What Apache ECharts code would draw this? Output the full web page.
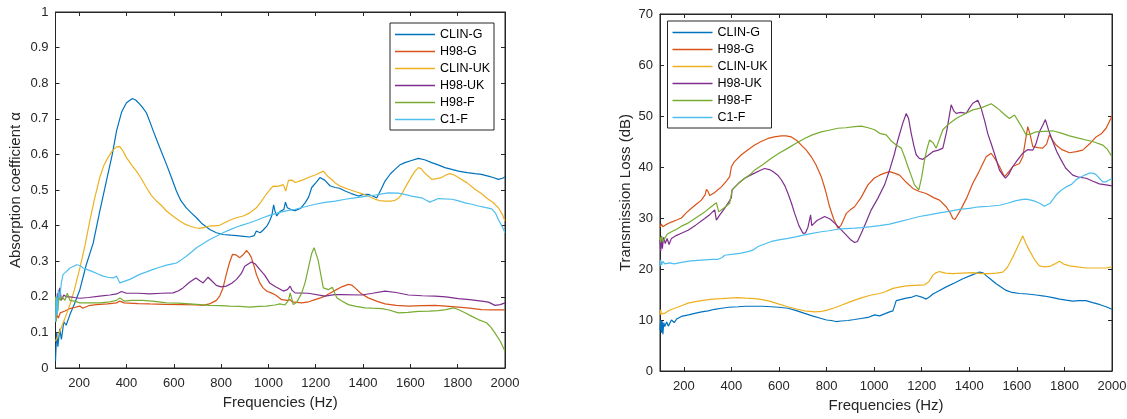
<!DOCTYPE html>
<html>
<head>
<meta charset="utf-8">
<script src="https://cdn.jsdelivr.net/npm/echarts@6/dist/echarts.min.js"></script>
<style>html,body{margin:0;padding:0;background:#fff;}#c{width:1127px;height:419px;}</style>
</head>
<body>
<div id="c"></div>
<script>
const seriesNames = ['CLIN-G','H98-G','CLIN-UK','H98-UK','H98-F','C1-F'];
const seriesColors = ['#0072BD','#D95319','#EDB120','#7E2F8E','#77AC30','#4DBEEE'];
const freqTicks = [200,400,600,800,1000,1200,1400,1600,1800,2000];

// Left panel: absorption coefficient
const absClinG = [[100,0.02],[105,0.10],[110,0.06],[118,0.11],[125,0.08],[135,0.13],[145,0.12],[161,0.15],[180,0.18],[203,0.22],[230,0.29],[259,0.35],[287,0.44],[315,0.525],[340,0.6],[358,0.666],[380,0.72],[400,0.745],[425,0.757],[440,0.752],[456,0.741],[470,0.73],[484,0.717],[500,0.69],[513,0.666],[540,0.62],[569,0.572],[590,0.535],[611,0.497],[630,0.47],[653,0.45],[675,0.435],[696,0.422],[720,0.405],[752,0.389],[780,0.38],[808,0.375],[840,0.373],[865,0.372],[895,0.37],[921,0.368],[940,0.372],[949,0.385],[965,0.38],[977,0.387],[995,0.4],[1005,0.413],[1015,0.43],[1022,0.458],[1028,0.44],[1035,0.427],[1050,0.44],[1065,0.445],[1072,0.466],[1080,0.45],[1095,0.445],[1113,0.442],[1135,0.448],[1155,0.464],[1170,0.48],[1183,0.507],[1200,0.52],[1218,0.535],[1239,0.527],[1260,0.512],[1282,0.507],[1300,0.505],[1324,0.497],[1350,0.49],[1380,0.483],[1400,0.487],[1422,0.488],[1440,0.483],[1458,0.478],[1475,0.5],[1493,0.525],[1515,0.545],[1535,0.558],[1555,0.57],[1577,0.577],[1605,0.583],[1634,0.589],[1660,0.585],[1690,0.577],[1720,0.57],[1746,0.563],[1775,0.558],[1803,0.553],[1840,0.549],[1873,0.546],[1900,0.544],[1929,0.539],[1950,0.535],[1972,0.53],[1990,0.533],[2000,0.537]];
const absH98G = [[100,0.13],[105,0.15],[112,0.14],[120,0.155],[140,0.16],[161,0.167],[180,0.17],[203,0.174],[215,0.168],[240,0.175],[273,0.178],[320,0.18],[358,0.183],[372,0.188],[390,0.183],[450,0.181],[499,0.18],[560,0.179],[639,0.178],[700,0.177],[724,0.176],[750,0.18],[766,0.185],[780,0.19],[794,0.202],[808,0.225],[822,0.263],[835,0.295],[848,0.319],[862,0.318],[879,0.31],[893,0.318],[907,0.33],[918,0.322],[928,0.31],[940,0.285],[949,0.263],[963,0.24],[977,0.225],[995,0.215],[1012,0.211],[1030,0.205],[1056,0.192],[1080,0.19],[1092,0.192],[1100,0.186],[1141,0.183],[1170,0.186],[1197,0.192],[1220,0.197],[1239,0.202],[1260,0.21],[1282,0.218],[1310,0.228],[1338,0.235],[1352,0.233],[1366,0.225],[1390,0.21],[1422,0.197],[1460,0.187],[1493,0.18],[1540,0.176],[1592,0.174],[1650,0.175],[1704,0.176],[1750,0.174],[1803,0.171],[1850,0.168],[1901,0.164],[1950,0.163],[2000,0.163]];
const absClinUK = [[100,0.075],[110,0.09],[118,0.103],[140,0.14],[161,0.178],[180,0.22],[203,0.281],[225,0.345],[245,0.413],[265,0.475],[287,0.535],[305,0.57],[322,0.591],[340,0.61],[358,0.621],[372,0.622],[385,0.61],[400,0.591],[420,0.572],[442,0.553],[460,0.535],[484,0.507],[505,0.485],[527,0.469],[550,0.455],[569,0.441],[600,0.425],[625,0.413],[645,0.405],[667,0.399],[690,0.394],[710,0.392],[730,0.395],[752,0.399],[775,0.399],[794,0.401],[815,0.408],[836,0.415],[865,0.422],[893,0.427],[920,0.435],[949,0.45],[970,0.468],[991,0.488],[1005,0.5],[1020,0.511],[1040,0.51],[1063,0.515],[1073,0.497],[1080,0.515],[1085,0.527],[1100,0.528],[1113,0.521],[1140,0.527],[1169,0.535],[1200,0.543],[1232,0.553],[1253,0.537],[1270,0.528],[1282,0.52],[1303,0.511],[1338,0.502],[1370,0.495],[1394,0.49],[1420,0.483],[1451,0.474],[1470,0.47],[1493,0.469],[1520,0.469],[1535,0.471],[1550,0.477],[1563,0.488],[1585,0.515],[1606,0.539],[1620,0.553],[1634,0.563],[1645,0.56],[1660,0.548],[1690,0.53],[1712,0.532],[1732,0.535],[1750,0.542],[1767,0.546],[1785,0.542],[1803,0.535],[1840,0.52],[1873,0.502],[1900,0.49],[1929,0.474],[1950,0.465],[1972,0.45],[1990,0.43],[2000,0.413]];
const absH98UK = [[100,0.2],[104,0.17],[108,0.21],[112,0.19],[118,0.225],[125,0.19],[135,0.205],[145,0.2],[161,0.2],[180,0.198],[203,0.196],[240,0.198],[287,0.202],[330,0.205],[358,0.208],[379,0.215],[400,0.21],[450,0.21],[499,0.208],[550,0.21],[597,0.211],[620,0.217],[639,0.225],[665,0.24],[693,0.253],[710,0.245],[724,0.239],[745,0.255],[760,0.245],[780,0.232],[800,0.228],[822,0.23],[845,0.238],[865,0.249],[885,0.265],[900,0.286],[928,0.298],[945,0.292],[963,0.277],[985,0.26],[1005,0.239],[1030,0.228],[1048,0.222],[1063,0.216],[1080,0.22],[1092,0.23],[1100,0.218],[1113,0.211],[1169,0.21],[1239,0.202],[1280,0.206],[1310,0.206],[1394,0.205],[1440,0.21],[1493,0.216],[1540,0.212],[1592,0.205],[1650,0.203],[1704,0.202],[1750,0.2],[1803,0.195],[1850,0.192],[1901,0.188],[1930,0.185],[1958,0.176],[1980,0.178],[2000,0.183]];
const absH98F = [[100,0.2],[103,0.13],[106,0.2],[110,0.16],[115,0.205],[120,0.19],[128,0.2],[140,0.19],[150,0.21],[161,0.19],[180,0.188],[203,0.183],[250,0.183],[287,0.183],[330,0.186],[358,0.19],[372,0.197],[390,0.188],[420,0.19],[470,0.19],[520,0.187],[569,0.183],[620,0.182],[667,0.18],[710,0.178],[752,0.176],[800,0.175],[836,0.174],[880,0.173],[921,0.171],[960,0.173],[991,0.174],[1028,0.177],[1048,0.18],[1070,0.177],[1085,0.19],[1092,0.211],[1100,0.192],[1105,0.178],[1120,0.185],[1141,0.211],[1155,0.24],[1169,0.281],[1182,0.32],[1193,0.338],[1202,0.32],[1211,0.3],[1222,0.26],[1232,0.225],[1253,0.22],[1270,0.227],[1289,0.197],[1310,0.188],[1338,0.178],[1370,0.173],[1408,0.169],[1440,0.168],[1479,0.167],[1510,0.163],[1549,0.155],[1590,0.156],[1634,0.159],[1680,0.16],[1718,0.161],[1750,0.164],[1782,0.169],[1800,0.165],[1831,0.155],[1860,0.145],[1887,0.136],[1922,0.127],[1940,0.115],[1958,0.098],[1980,0.075],[2000,0.047]];
const absC1F = [[100,0.13],[104,0.2],[108,0.15],[112,0.22],[118,0.197],[125,0.24],[132,0.263],[145,0.27],[161,0.281],[175,0.285],[189,0.29],[203,0.288],[217,0.281],[240,0.275],[259,0.27],[280,0.264],[301,0.258],[322,0.255],[344,0.253],[358,0.258],[372,0.239],[393,0.244],[414,0.249],[435,0.256],[456,0.263],[485,0.27],[513,0.277],[540,0.283],[569,0.289],[590,0.292],[611,0.295],[630,0.303],[653,0.314],[675,0.326],[696,0.338],[725,0.35],[752,0.361],[780,0.37],[808,0.38],[836,0.388],[865,0.396],[893,0.402],[921,0.408],[950,0.415],[977,0.422],[1010,0.43],[1048,0.437],[1080,0.442],[1113,0.446],[1155,0.453],[1197,0.46],[1240,0.465],[1282,0.469],[1325,0.474],[1366,0.478],[1410,0.482],[1451,0.486],[1480,0.489],[1507,0.492],[1549,0.491],[1580,0.487],[1606,0.483],[1648,0.478],[1665,0.472],[1683,0.466],[1700,0.471],[1718,0.476],[1775,0.474],[1800,0.47],[1831,0.464],[1860,0.46],[1887,0.455],[1915,0.451],[1944,0.447],[1960,0.435],[1972,0.417],[1990,0.395],[2000,0.38]];

// Right panel: transmission loss (dB)
const tlClinG = [[100,8],[103,10],[106,7.5],[109,9.8],[112,7.2],[116,9.5],[120,8.7],[128,9.6],[135,8.8],[148,10],[160,9.5],[170,10.2],[190,10.7],[220,11],[246,11.3],[275,11.6],[302,11.8],[330,12.1],[358,12.3],[390,12.5],[428,12.6],[460,12.7],[498,12.7],[530,12.7],[568,12.6],[600,12.5],[638,12.3],[670,11.9],[708,11.3],[740,10.8],[778,10.3],[800,10],[820,9.9],[840,9.7],[862,9.8],[890,9.9],[918,10.1],[945,10.3],[974,10.5],[1002,11],[1023,10.8],[1044,11.2],[1065,11.6],[1079,11.8],[1093,13.8],[1110,14],[1135,14.3],[1160,14.5],[1177,14.8],[1200,14.5],[1219,14.1],[1235,14.6],[1247,15.1],[1275,15.8],[1303,16.5],[1340,17.3],[1373,18.1],[1410,18.8],[1443,19.4],[1460,19.2],[1471,18.7],[1490,18],[1513,17.1],[1535,16.4],[1555,15.8],[1580,15.4],[1611,15.2],[1645,15.1],[1681,14.9],[1715,14.7],[1751,14.4],[1780,14.1],[1807,13.9],[1835,13.7],[1863,13.8],[1890,13.8],[1919,13.4],[1950,13],[1975,12.6],[2000,12.1]];
const tlH98G = [[100,28.2],[105,28.8],[112,28.3],[125,28.7],[148,29.2],[170,29.6],[190,30],[210,31],[232,31.9],[255,32.8],[274,33.5],[290,34.6],[295,35.6],[302,35.2],[309,34.4],[330,35],[358,36.1],[380,37.3],[393,38.1],[400,40],[410,40.9],[442,42.4],[470,43.4],[498,44.3],[525,45],[554,45.6],[580,45.9],[610,46.1],[630,46.1],[652,45.9],[675,45.2],[694,44.3],[715,43.3],[736,42],[755,40.5],[778,38.1],[795,35.5],[813,32.2],[830,29.8],[848,28],[860,28.5],[870,29.5],[883,30.9],[900,31.6],[918,32.2],[945,34],[974,36.5],[1000,37.8],[1023,38.4],[1044,38.8],[1065,39.1],[1085,38.8],[1107,38.4],[1135,37],[1163,35.8],[1190,35.2],[1219,34.8],[1250,34],[1275,33.5],[1303,32.2],[1320,31],[1331,29.9],[1340,29.7],[1359,31.2],[1390,34],[1415,36.8],[1440,39],[1471,42],[1492,42.7],[1510,41.5],[1527,40.1],[1548,38.1],[1565,39],[1583,40.1],[1611,40.7],[1625,42],[1632,44],[1646,47.9],[1655,46.5],[1667,44],[1690,43.8],[1709,43.7],[1725,44.5],[1737,46.3],[1750,45.3],[1765,44.3],[1790,43.4],[1821,42.8],[1850,43],[1877,43.3],[1905,44.5],[1933,45.9],[1955,46.5],[1975,47.6],[1988,48.8],[2000,50]];
const tlClinUK = [[100,11],[103,12],[106,11.2],[110,11.5],[120,11.3],[140,11.9],[162,12.3],[190,12.8],[218,13.3],[250,13.6],[288,13.9],[320,14.1],[358,14.2],[390,14.3],[428,14.4],[460,14.3],[498,14.2],[530,14],[568,13.6],[600,13.1],[638,12.6],[670,12.2],[708,11.8],[750,11.6],[780,11.7],[806,12],[835,12.4],[862,12.9],[890,13.4],[918,13.9],[950,14.4],[988,14.9],[1023,15.2],[1044,15.5],[1060,15.8],[1079,16.2],[1100,16.4],[1135,16.7],[1170,16.8],[1212,16.9],[1230,17.5],[1247,18.8],[1262,19.3],[1275,19.5],[1300,19.2],[1331,19.1],[1370,19.2],[1415,19.3],[1450,19.1],[1485,19.1],[1515,19.2],[1541,19.4],[1560,20.3],[1583,22.3],[1605,24.5],[1625,26.5],[1638,25],[1653,23.6],[1675,21.8],[1695,20.6],[1715,20.4],[1737,20.5],[1760,21],[1779,21.5],[1800,20.9],[1821,20.6],[1855,20.4],[1891,20.2],[1940,20.2],[1975,20.2],[2000,20.4]];
const tlH98UK = [[100,25.7],[103,23.5],[106,26],[110,24],[115,26.2],[122,25],[130,26],[138,24.8],[148,26],[170,26.6],[190,27],[218,27.6],[250,28.6],[288,29.9],[310,30.7],[330,31.6],[337,29.6],[350,30.5],[370,31.8],[386,32.9],[400,34],[403,35.5],[430,36.8],[456,37.8],[480,38.4],[498,38.8],[520,39.3],[540,39.7],[560,39.5],[575,39.1],[595,38.4],[610,37.5],[625,36.3],[638,34.8],[652,33],[666,30.9],[684,28.5],[701,27],[712,27.1],[722,28.2],[733,30.6],[738,28.5],[743,28.6],[760,29.5],[792,30.3],[815,29.8],[834,29],[855,28],[876,27],[900,25.8],[918,25.2],[930,25.4],[946,27],[965,29],[988,31.6],[1015,33.8],[1044,36.5],[1065,39.4],[1085,42.5],[1100,45.3],[1120,48.5],[1135,50.5],[1145,49.5],[1156,46.6],[1168,44],[1177,42.4],[1190,41.7],[1205,41.5],[1225,42.2],[1247,43],[1270,43.3],[1289,43.7],[1305,47],[1324,52.2],[1335,51],[1345,50.5],[1365,50.7],[1387,50.5],[1400,51.5],[1415,52.5],[1436,53.1],[1450,51.5],[1464,49.2],[1478,46.5],[1492,44.6],[1510,42],[1527,39.4],[1540,38.5],[1552,37.8],[1565,38.5],[1583,40.1],[1600,41.2],[1625,42.7],[1645,43.4],[1667,43.3],[1680,44.5],[1695,46.9],[1710,48.3],[1720,49.3],[1735,47],[1751,45],[1768,43],[1786,41.4],[1805,39.8],[1835,38.4],[1860,38],[1891,37.8],[1920,37.2],[1947,36.7],[1975,36.5],[2000,36.3]];
const tlH98F = [[100,26.3],[103,25.2],[107,26.5],[112,25.4],[120,26],[130,26.8],[148,27.3],[170,27.8],[190,28.4],[218,29],[250,30],[288,31.2],[315,32.2],[337,33],[347,31.2],[370,32],[393,32.9],[403,35.5],[430,36.8],[456,37.8],[480,38.6],[498,39.4],[530,40.4],[568,41.7],[600,42.7],[638,43.7],[670,44.6],[708,45.6],[740,46.3],[778,46.9],[810,47.2],[848,47.6],[880,47.7],[918,47.9],[946,48],[975,47.7],[1002,47.3],[1023,46.6],[1051,46.3],[1070,45.2],[1093,44.3],[1114,43.7],[1128,42],[1142,40.1],[1156,38.3],[1170,36.5],[1188,35.5],[1200,38],[1212,41.4],[1222,43.5],[1233,45.3],[1247,44.8],[1261,43.7],[1275,45.5],[1289,47.3],[1315,48.5],[1345,49.5],[1380,50.4],[1415,51.2],[1450,51.6],[1492,52.4],[1510,51.8],[1527,51.2],[1548,50.3],[1569,49.5],[1590,50.2],[1611,48.6],[1625,47.5],[1639,46.3],[1660,46.5],[1681,46.9],[1715,47],[1751,47.1],[1790,46.6],[1821,46.1],[1855,45.7],[1891,45.3],[1925,44.9],[1961,44.3],[1980,43.5],[2000,42]];
const tlC1F = [[100,20.5],[103,21.8],[107,20.8],[112,21.5],[120,21],[140,21.2],[160,21],[190,21.3],[230,21.6],[288,21.8],[320,21.9],[344,21.9],[360,22.2],[372,22.7],[410,22.9],[440,23.1],[470,23.4],[490,23.7],[512,24.4],[540,24.9],[568,25.4],[600,25.7],[638,26],[670,26.3],[708,26.7],[740,27],[778,27.3],[810,27.5],[848,27.8],[880,27.9],[918,28],[950,28.1],[988,28.3],[1023,28.5],[1065,28.8],[1107,29.3],[1150,29.8],[1191,30.3],[1230,30.6],[1275,31],[1315,31.3],[1359,31.7],[1400,31.9],[1443,32.2],[1485,32.3],[1527,32.5],[1560,32.9],[1597,33.4],[1620,33.6],[1639,33.7],[1660,33.5],[1681,33.2],[1700,32.8],[1715,32.3],[1723,32.2],[1740,32.9],[1765,34.5],[1785,35.4],[1807,36.1],[1830,36.6],[1849,37.5],[1875,38.2],[1905,38.8],[1920,38.8],[1933,38.5],[1947,37.8],[1961,37.1],[1975,37.1],[1990,37.5],[2000,37.8]];

const absData = [absClinG, absH98G, absClinUK, absH98UK, absH98F, absC1F];
const tlData = [tlClinG, tlH98G, tlClinUK, tlH98UK, tlH98F, tlC1F];

const FONT = "'Liberation Sans', Arial, sans-serif";
const AX = '#262626';

function xAx(grid, pos, labels, name) {
  return {
    type: 'value', gridIndex: grid, position: pos, min: 100, max: 2000,
    axisLine: {show: true, onZero: false, lineStyle: {color: AX, width: 1}},
    axisTick: {show: true, inside: true, length: 4, customValues: freqTicks, lineStyle: {color: AX}},
    axisLabel: {show: labels, customValues: freqTicks, color: AX, fontSize: 13, fontFamily: FONT, margin: 9,
      formatter: v => String(Math.round(v))},
    splitLine: {show: false},
    name: name || '', nameLocation: 'middle', nameGap: 27,
    nameTextStyle: {color: AX, fontSize: 15, fontFamily: FONT}
  };
}
function yAx(grid, pos, labels, max, interval, name, gap) {
  return {
    type: 'value', gridIndex: grid, position: pos, min: 0, max: max, interval: interval,
    axisLine: {show: true, onZero: false, lineStyle: {color: AX, width: 1}},
    axisTick: {show: true, inside: true, length: 4, lineStyle: {color: AX}},
    axisLabel: {show: labels, color: AX, fontSize: 13, fontFamily: FONT, margin: 7,
      formatter: v => String(+(+v).toFixed(1))},
    splitLine: {show: false},
    name: name || '', nameLocation: 'middle', nameGap: gap || 30, nameRotate: 90,
    nameTextStyle: {color: AX, fontSize: 15, fontFamily: FONT}
  };
}
function legend(left, top) {
  return {
    data: seriesNames, orient: 'vertical', left: left, top: top,
    padding: [3, 4, 2, 5], itemGap: 0, itemWidth: 40, itemHeight: 1.5, icon: 'rect',
    borderColor: AX, borderWidth: 1, backgroundColor: '#fff', selectedMode: false,
    textStyle: {fontSize: 12.5, fontFamily: FONT, color: '#000', lineHeight: 17}
  };
}

const series = [];
seriesNames.forEach((n, i) => {
  series.push({type: 'line', name: n, xAxisIndex: 0, yAxisIndex: 0, data: absData[i],
    symbol: 'none', animation: false, color: seriesColors[i], lineStyle: {width: 1.2, color: seriesColors[i]}});
});
seriesNames.forEach((n, i) => {
  series.push({type: 'line', name: n, xAxisIndex: 2, yAxisIndex: 2, data: tlData[i],
    symbol: 'none', animation: false, color: seriesColors[i], lineStyle: {width: 1.2, color: seriesColors[i]}});
});
// single-point helper series (draw nothing) so the mirrored top/right box axes are instantiated
series.push({type: 'line', name: '_boxL', xAxisIndex: 1, yAxisIndex: 1, data: [[100, 0]], symbol: 'none', silent: true, lineStyle: {opacity: 0}});
series.push({type: 'line', name: '_boxR', xAxisIndex: 3, yAxisIndex: 3, data: [[100, 0]], symbol: 'none', silent: true, lineStyle: {opacity: 0}});

const chart = echarts.init(document.getElementById('c'));
chart.setOption({
  backgroundColor: '#fff',
  animation: false,
  grid: [
    {left: 55.5, top: 12, right: 622, bottom: 51, containLabel: false, outerBoundsMode: 'none',
     show: true, borderColor: AX, borderWidth: 1, backgroundColor: 'transparent'},
    {left: 660, top: 14, right: 15, bottom: 48, containLabel: false, outerBoundsMode: 'none',
     show: true, borderColor: AX, borderWidth: 1, backgroundColor: 'transparent'}
  ],
  xAxis: [
    xAx(0, 'bottom', true, 'Frequencies (Hz)'),
    xAx(0, 'top', false),
    xAx(1, 'bottom', true, 'Frequencies (Hz)'),
    xAx(1, 'top', false)
  ],
  yAxis: [
    yAx(0, 'left', true, 1, 0.1, 'Absorption coefficient α', 32),
    yAx(0, 'right', false, 1, 0.1),
    yAx(1, 'left', true, 70, 10, 'Transmission Loss (dB)', 27),
    yAx(1, 'right', false, 70, 10)
  ],
  legend: [legend(390, 23), legend(667.5, 21)],
  series: series
});
</script>
</body>
</html>
